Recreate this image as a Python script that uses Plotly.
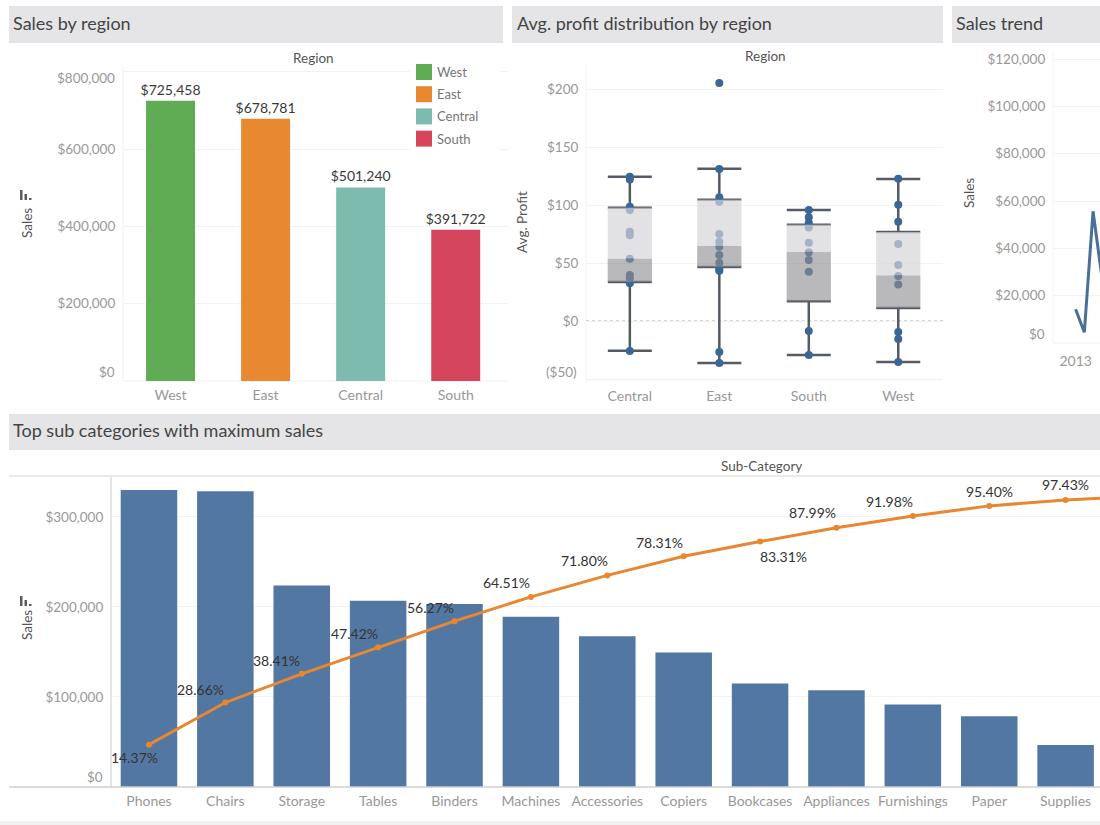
import plotly.graph_objects as go

# Sales by region
regions = ['West', 'East', 'Central', 'South']
region_sales = [725458, 678781, 501240, 391722]
region_colors = ['#5fac55', '#e88831', '#7dbbae', '#d5455c']

# Avg. profit distribution
box_regions = ['Central', 'East', 'South', 'West']
box_upper = [124.4, 131.3, 95.7, 122.4]
box_q3 = [97.7, 104.6, 83.0, 76.7]
box_median = [54.0, 64.7, 59.8, 39.4]
box_q1 = [33.6, 46.6, 17.0, 11.2]
box_lower = [-25.6, -36.2, -29.3, -35.3]
central_profit = [124.4, 122.0, 98.6, 95.7, 77.0, 74.0, 53.7, 39.7, 36.8, 32.5, -25.9]
east_profit = [205.2, 131.0, 106.6, 102.9, 75.0, 68.4, 64.0, 56.9, 50.3, 44.5, 43.4, -26.7, -36.2]
south_profit = [95.7, 89.4, 84.8, 80.7, 67.5, 59.2, 52.6, 42.5, -8.6, -29.3]
west_profit = [122.7, 100.3, 85.6, 66.4, 48.3, 38.8, 31.6, -9.5, -15.5, -35.3]

# Sales trend, only the start of the line is in view
trend_months = ['2013-01', '2013-02', '2013-03', '2013-04']
trend_sales = [14236, 4519, 55691, 28295]

# Sub categories
sub_categories = ['Phones', 'Chairs', 'Storage', 'Tables', 'Binders', 'Machines', 'Accessories',
                  'Copiers', 'Bookcases', 'Appliances', 'Furnishings', 'Paper', 'Supplies', 'Art']
sub_sales = [330007, 328449, 223844, 206966, 203413, 189239, 167380,
             149528, 114880, 107532, 91705, 78479, 46674, 27119]
running_pct = [14.37, 28.66, 38.41, 47.42, 56.27, 64.51, 71.80,
               78.31, 83.31, 87.99, 91.98, 95.40, 97.43, 98.61]
running_labels = ['14.37%', '28.66%', '38.41%', '47.42%', '56.27%', '64.51%', '71.80%',
                  '78.31%', '83.31%', '87.99%', '91.98%', '95.40%', '97.43%']

# where each running label sits against its point, in pixels
label_dx = [-14, -25, -25, -24, -24, -24, -23, -24, 23, -24, -23, 0, 0]
label_dy = [-13, 13, 13, 14, 14, 14, 15, 14, -15, 15, 14, 14, 15]

FONT = 'Lato'
TICK = '#989898'
GRID = '#f2f2f3'
BAND = '#e5e4e7'
BLUE = '#5377a3'
ORANGE = '#e8872f'
WHISKER = '#555b63'


def px_x(v):
    return v / 1100


def px_y(v):
    return 1 - v / 825


def dom_x(a, b):
    return [px_x(a), px_x(b)]


def dom_y(top, bottom):
    return [px_y(bottom), px_y(top)]


def money(v):
    return '(${:,})'.format(-v) if v < 0 else '${:,}'.format(v)


fig = go.Figure()

# top left
for name, value, color in zip(regions, region_sales, region_colors):
    fig.add_trace(go.Bar(x=[name], y=[value], marker=dict(color=color, line=dict(width=0)), width=0.515,
                         text=[money(value)], textposition='outside', cliponaxis=False, constraintext='none',
                         textfont=dict(size=14, color='#3a3a3a', family=FONT), showlegend=False,
                         xaxis='x', yaxis='y'))

# box panel: points sit on the base axes, the grey boxes on an overlay so the dots show through
fig.add_trace(go.Scatter(x=box_regions, y=box_q3, mode='markers', marker=dict(opacity=0),
                         error_y=dict(type='data', symmetric=False,
                                      array=[u - q for u, q in zip(box_upper, box_q3)],
                                      arrayminus=[0, 0, 0, 0], color=WHISKER, thickness=2.5, width=22),
                         showlegend=False, xaxis='x2', yaxis='y2'))
fig.add_trace(go.Scatter(x=box_regions, y=box_q1, mode='markers', marker=dict(opacity=0),
                         error_y=dict(type='data', symmetric=False, array=[0, 0, 0, 0],
                                      arrayminus=[q - l for q, l in zip(box_q1, box_lower)],
                                      color=WHISKER, thickness=2.5, width=22),
                         showlegend=False, xaxis='x2', yaxis='y2'))
for name, values in zip(box_regions, [central_profit, east_profit, south_profit, west_profit]):
    fig.add_trace(go.Scatter(x=[name] * len(values), y=values, mode='markers',
                             marker=dict(size=8, color='#3a6796'), showlegend=False,
                             xaxis='x2', yaxis='y2'))
fig.add_trace(go.Bar(x=box_regions, y=[m - q for m, q in zip(box_median, box_q1)], base=box_q1, width=0.495,
                     marker=dict(color='rgba(142,141,146,0.62)', line=dict(width=0)), showlegend=False,
                     xaxis='x2', yaxis='y5'))
fig.add_trace(go.Bar(x=box_regions, y=[q - m for q, m in zip(box_q3, box_median)], base=box_median, width=0.495,
                     marker=dict(color='rgba(213,212,216,0.7)', line=dict(width=0)), showlegend=False,
                     xaxis='x2', yaxis='y5'))

# sales trend
fig.add_trace(go.Scatter(x=trend_months, y=trend_sales, mode='lines', line=dict(color='#4a7097', width=3),
                         showlegend=False, xaxis='x3', yaxis='y3'))

# pareto
fig.add_trace(go.Bar(x=sub_categories, y=sub_sales, width=0.74, marker=dict(color=BLUE, line=dict(width=0)),
                     showlegend=False, xaxis='x4', yaxis='y4'))
fig.add_trace(go.Scatter(x=sub_categories, y=running_pct, mode='lines+markers',
                         line=dict(color=ORANGE, width=3), marker=dict(color=ORANGE, size=6),
                         showlegend=False, xaxis='x4', yaxis='y6'))

tick_font = dict(size=13.5, color=TICK, family=FONT)
cat_font = dict(size=14, color=TICK, family=FONT)
y_common = dict(showgrid=True, gridcolor=GRID, gridwidth=1, zeroline=False, showline=False,
                ticks='outside', ticklen=4, tickcolor='rgba(0,0,0,0)', tickfont=tick_font)
x_common = dict(showgrid=False, zeroline=False, showline=False, ticks='outside', ticklen=1,
                tickcolor='rgba(0,0,0,0)', tickfont=cat_font, type='category')

ticks1 = [0, 200000, 400000, 600000, 800000]
ticks2 = [-50, 0, 50, 100, 150, 200]
ticks3 = [0, 20000, 40000, 60000, 80000, 100000, 120000]
ticks4 = [0, 100000, 200000, 300000]

fig.update_layout(
    width=1100, height=825, margin=dict(l=0, r=0, t=0, b=0), autosize=False,
    paper_bgcolor='white', plot_bgcolor='white', barmode='overlay',
    font=dict(family=FONT),
    xaxis=dict(x_common, domain=dom_x(123, 508), range=[-0.5, 3.55], categoryorder='array', categoryarray=regions),
    yaxis=dict(y_common, domain=dom_y(66, 381), range=[0, 815500], anchor='x', tickvals=ticks1,
               ticktext=['' if t in (0, 800000) else money(t) for t in ticks1]),
    xaxis2=dict(x_common, domain=dom_x(586, 943), range=[-0.49, 3.5], anchor='y2', ticklen=0,
                categoryorder='array', categoryarray=box_regions),
    yaxis2=dict(y_common, domain=dom_y(65, 383), range=[-53.4, 220.7], anchor='x2', tickvals=ticks2,
                ticktext=['' if t == -50 else money(t) for t in ticks2]),
    yaxis5=dict(overlaying='y2', range=[-53.4, 220.7], visible=False, anchor='x2'),
    xaxis3=dict(x_common, domain=dom_x(1053, 1100), range=[-2.6, 2.8], anchor='y3', tickvals=['2013-01'],
                ticktext=['2013'], ticklen=5, categoryorder='array', categoryarray=trend_months),
    yaxis3=dict(y_common, domain=dom_y(52, 343), range=[0, 123000], anchor='x3', tickvals=ticks3,
                ticktext=['' if t == 0 else money(t) for t in ticks3]),
    xaxis4=dict(x_common, domain=dom_x(111, 1100), range=[-0.497, 12.45], anchor='y4',
                categoryorder='array', categoryarray=sub_categories),
    yaxis4=dict(y_common, domain=dom_y(477, 787), range=[0, 344400], anchor='x4', tickvals=ticks4,
                ticktext=['' if t == 0 else money(t) for t in ticks4]),
    yaxis6=dict(overlaying='y4', range=[0, 105.2], visible=False, anchor='x4'),
)

shapes = []
annotations = []


def rect(x0, y0, x1, y1, color, layer='below'):
    shapes.append(dict(type='rect', xref='paper', yref='paper', x0=px_x(x0), x1=px_x(x1),
                       y0=px_y(y0), y1=px_y(y1), fillcolor=color, line=dict(width=0), layer=layer))


def rule(x0, y0, x1, y1, color, width=1, dash='solid', layer='below'):
    shapes.append(dict(type='line', xref='paper', yref='paper', x0=px_x(x0), x1=px_x(x1),
                       y0=px_y(y0), y1=px_y(y1), line=dict(color=color, width=width, dash=dash), layer=layer))


def label(x, y, text, size=13.5, color='#555555', anchor='center', angle=0):
    annotations.append(dict(xref='paper', yref='paper', x=px_x(x), y=px_y(y), text=text, showarrow=False,
                            xanchor=anchor, yanchor='middle', textangle=angle,
                            font=dict(size=size, color=color, family=FONT)))


def edge_tick(axis, value, right, shift):
    # Tableau pulls the outermost tick labels back inside the pane
    annotations.append(dict(xref='paper', yref=axis, x=px_x(right), y=value, text=money(value), showarrow=False,
                            xanchor='right', yanchor='middle', yshift=shift, font=tick_font))


def sort_icon(x, bottom):
    rect(x, bottom - 10, x + 2.5, bottom, '#5c5c5c')
    rect(x + 4.5, bottom - 6, x + 7, bottom, '#5c5c5c')
    rect(x + 9, bottom - 2, x + 11.5, bottom, '#5c5c5c')


# title bands
rect(9, 6, 503, 43, BAND)
rect(512, 6, 943, 43, BAND)
rect(952, 6, 1100, 43, BAND)
rect(9, 414, 1100, 450, BAND)
rect(0, 821, 1100, 825, '#f1f1f2')
label(11, 23, 'Sales by region', 18, '#444444', 'left')
label(515, 23, 'Avg. profit distribution by region', 18, '#444444', 'left')
label(954, 23, 'Sales trend', 18, '#444444', 'left')
label(11, 430, 'Top sub categories with maximum sales', 18, '#444444', 'left')

# headers and axis titles
label(313, 58, 'Region')
label(765, 56, 'Region')
label(761, 466, 'Sub-Category')
label(27, 223, 'Sales', angle=-90)
label(522, 222, 'Avg. Profit', angle=-90)
label(969, 193, 'Sales', angle=-90)
label(27, 625, 'Sales', angle=-90)
sort_icon(20, 200)
sort_icon(20, 606)

# legend
rect(410, 62, 500, 150, 'white', 'above')
for i, (name, color) in enumerate(zip(regions, region_colors)):
    rect(416, 64 + i * 22.2, 432, 80 + i * 22.2, color, 'above')
    label(435, 72 + i * 22.2, name, 13, '#777777', 'left')

# pane rules
rule(123, 66, 123, 381, GRID)
rule(123, 381, 508, 381, '#f0f0f0')
rule(586, 65, 586, 383, GRID)
rule(586, 380, 943, 380, GRID)
rule(1053, 52, 1053, 343, GRID)
rule(1053, 343, 1100, 343, GRID)
rule(9, 476, 1100, 476, '#e2e2e4', 1.5)
rule(9, 787, 1100, 787, '#cfcfd3', 1.5, layer='above')
rule(111, 477, 111, 787, '#d5d5d9', 1.2)
rule(586, 321, 943, 321, '#a9adb5', 1, 'dot')

edge_tick('y', 0, 117, 9)
edge_tick('y', 800000, 117, -6)
edge_tick('y2', -50, 579, 7)
edge_tick('y3', 0, 1047, 9)
edge_tick('y4', 0, 105, 10)

# running share labels, placed by hand in the original
for name, pct, text, dx, dy in zip(sub_categories, running_pct, running_labels, label_dx, label_dy):
    annotations.append(dict(xref='x4', yref='y6', x=name, y=pct, text=text, showarrow=False,
                            xshift=dx, yshift=dy, font=dict(size=14, color='#333333', family=FONT)))

fig.update_layout(shapes=shapes, annotations=annotations)

# the page's default body margin would push the fixed-size figure off the window
fig.write_html("out.html", config=dict(displayModeBar=False),
               post_script="document.body.style.margin='0';document.body.style.overflow='hidden';")
